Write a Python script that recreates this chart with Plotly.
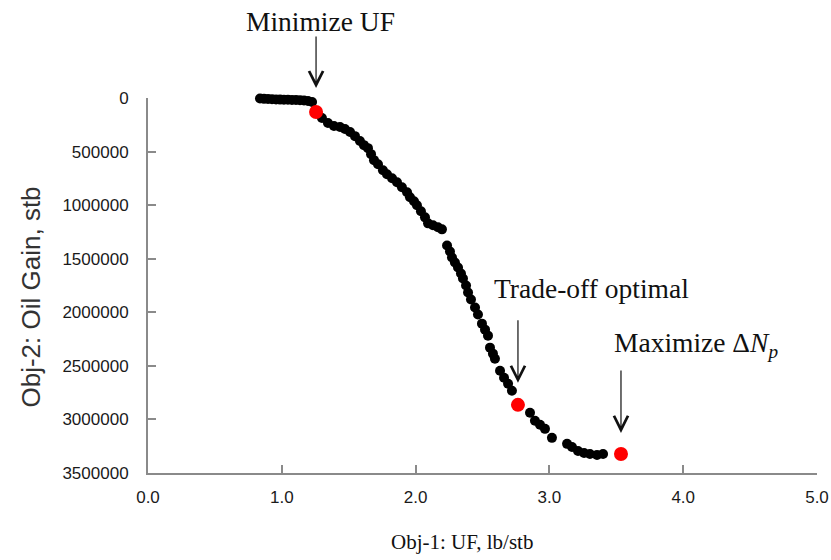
import plotly.graph_objects as go

# Pareto front: Obj-1 (UF, lb/stb) vs Obj-2 (oil gain, stb)
uf = [0.837, 0.867, 0.897, 0.927, 0.957, 0.987, 1.016, 1.046, 1.076, 1.106,
      1.136, 1.166, 1.196, 1.226,
      1.300, 1.345, 1.390, 1.435, 1.472, 1.510, 1.547, 1.584, 1.614, 1.644,
      1.667, 1.689, 1.719, 1.756, 1.786, 1.824, 1.861, 1.898, 1.936, 1.958,
      1.988, 2.010, 2.040, 2.070, 2.093, 2.130, 2.167, 2.197,
      2.235, 2.257, 2.272, 2.294, 2.317, 2.339, 2.354, 2.377, 2.392, 2.414,
      2.444, 2.466, 2.496, 2.519, 2.541, 2.556, 2.578, 2.593, 2.631, 2.661,
      2.691, 2.720,
      2.855, 2.892, 2.930, 2.967, 3.019, 3.132, 3.169, 3.214, 3.259, 3.303,
      3.356, 3.401]
oil_gain = [5000, 8000, 10000, 12000, 14000, 15000, 16000, 17000, 18000, 19000,
            21000, 24000, 28000, 38000,
            187000, 234000, 262000, 271000, 290000, 318000, 356000, 402000, 440000, 468000,
            524000, 580000, 618000, 674000, 711000, 749000, 786000, 833000, 880000, 926000,
            964000, 1001000, 1057000, 1114000, 1170000, 1188000, 1207000, 1226000,
            1376000, 1432000, 1488000, 1535000, 1582000, 1638000, 1684000, 1750000, 1815000, 1881000,
            1956000, 2021000, 2106000, 2162000, 2218000, 2330000, 2386000, 2433000, 2545000, 2611000,
            2667000, 2733000,
            2938000, 3013000, 3050000, 3088000, 3172000, 3228000, 3257000, 3294000, 3313000, 3322000,
            3331000, 3322000]

# Selected solutions
sel_uf = [1.256, 2.765, 3.535]
sel_gain = [131000, 2864000, 3322000]
sel_labels = ["Minimize UF", "Trade-off optimal", "Maximize Δ<i>N</i><sub><i>p</i></sub>"]

x_range = [0, 5]
y_range = [3500000, 0]

axis_grey = "#8a8a8a"
serif = "Liberation Serif, Times New Roman, serif"
sans = "Liberation Sans, Arial, sans-serif"

fig = go.Figure()
fig.add_trace(go.Scatter(x=uf, y=oil_gain, mode="markers", cliponaxis=False,
                         marker=dict(color="black", size=10, line=dict(width=0)),
                         hoverinfo="skip", showlegend=False))
fig.add_trace(go.Scatter(x=sel_uf, y=sel_gain, mode="markers", cliponaxis=False,
                         marker=dict(color="#ff0000", size=14, line=dict(width=0)),
                         hoverinfo="skip", showlegend=False))

# arrow geometry (pixels): tail offset above the point, gap between tip and point
arrow_tail = [-77, -86, -85]
arrow_gap = [24, 22, 21]
label_shift = [91, 116, 109]
label_xshift = [4, 74, 75]

annotations = []
for xv, yv, lab, tail, gap, ys, xs in zip(sel_uf, sel_gain, sel_labels,
                                          arrow_tail, arrow_gap, label_shift, label_xshift):
    annotations.append(dict(x=xv, y=yv, xref="x", yref="y", ax=0, ay=tail,
                            showarrow=True, arrowhead=5, arrowsize=2.3, arrowwidth=1.2,
                            arrowcolor="#111", standoff=gap, text=""))
    annotations.append(dict(x=xv, y=yv, xref="x", yref="y", showarrow=False,
                            text=lab, yshift=ys, xshift=xs,
                            font=dict(family=serif, size=27.5, color="#111")))

annotations.append(dict(x=0.47, y=0, xref="paper", yref="paper", yshift=-69,
                        xanchor="center", yanchor="middle",
                        showarrow=False, text="Obj-1: UF, lb/stb",
                        font=dict(family=serif, size=21, color="#111")))
annotations.append(dict(x=0, y=0.5, xref="paper", yref="paper", xshift=-118, yshift=-12,
                        xanchor="center", yanchor="middle",
                        showarrow=False, text="Obj-2: Oil Gain, stb", textangle=-90,
                        font=dict(family=sans, size=26, color="#333")))
fig.update_layout(
    width=831, height=560,
    margin=dict(l=148, r=14, t=98, b=87),
    paper_bgcolor="white", plot_bgcolor="white",
    annotations=annotations,
    hovermode=False,
)
fig.update_xaxes(range=x_range, dtick=1, tick0=0, tickformat=".1f",
                 showline=True, linecolor=axis_grey, linewidth=2,
                 ticks="inside", ticklen=8, tickwidth=2, tickcolor=axis_grey,
                 ticklabelstandoff=8, automargin=False,
                 showgrid=False, zeroline=False,
                 tickfont=dict(family=sans, size=17, color="#1a1a1a"))
fig.update_yaxes(range=y_range, dtick=500000, tick0=0, tickformat="d",
                 showline=True, linecolor=axis_grey, linewidth=2,
                 ticks="inside", ticklen=8, tickwidth=2, tickcolor=axis_grey,
                 ticklabelstandoff=14, automargin=False,
                 showgrid=False, zeroline=False,
                 tickfont=dict(family=sans, size=17, color="#1a1a1a"))

fig.write_html("out.html")
